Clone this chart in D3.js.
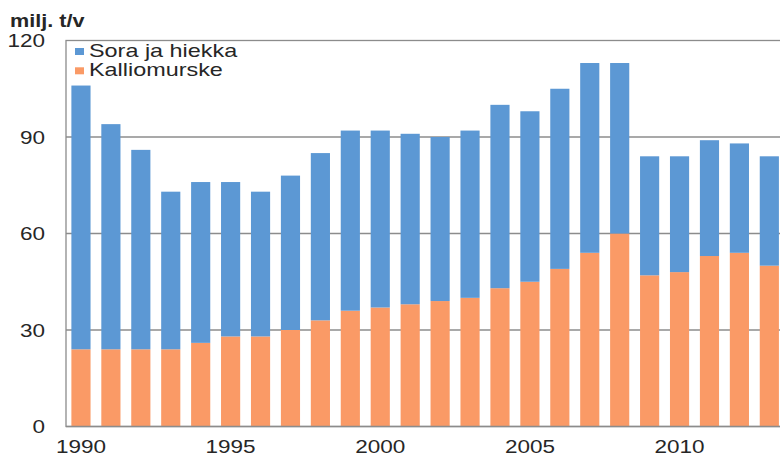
<!DOCTYPE html>
<html><head><meta charset="utf-8">
<script src="https://cdn.jsdelivr.net/npm/d3@7"></script>
<style>html,body{margin:0;padding:0;background:#fff;overflow:hidden}</style>
</head><body>
<svg id="c" width="780" height="455"></svg>
<script>
const years = [1990,1991,1992,1993,1994,1995,1996,1997,1998,1999,2000,2001,2002,2003,2004,2005,2006,2007,2008,2009,2010,2011,2012,2013];
const kalliomurske = [24,24,24,24,26,28,28,30,33,36,37,38,39,40,43,45,49,54,60,47,48,53,54,50];
const soraJaHiekka = [82,70,62,49,50,48,45,48,52,56,55,53,51,52,57,53,56,59,53,37,36,36,34,34];
const yTicks = [0,30,60,90,120];
const xTickLabels = [1990,1995,2000,2005,2010];
const seriesNames = ["Sora ja hiekka","Kalliomurske"];
const unitLabel = "milj. t/v";

(function(){
const colors = {sora:"#5c98d4", kallio:"#fa9a66"};
const svg = d3.select("#c");
const pLeft = 66, pRight = 784.3, pTop = 40.5, pBottom = 426.5;
const SX = 1.25;
const font = "Liberation Sans, Arial, sans-serif";

const rows = years.map((yr,i)=>({year:yr, kallio:kalliomurske[i], sora:soraJaHiekka[i]}));
const stack = d3.stack().keys(["kallio","sora"])(rows);

const x = d3.scaleBand().domain(years).range([pLeft,pRight]).paddingInner(0.36).paddingOuter(0.18);
const y = d3.scaleLinear().domain([0,120]).range([pBottom,pTop]);

// gridlines
svg.append("g").selectAll("line").data(yTicks.filter(d=>d>0 && d<120)).join("line")
  .attr("x1",pLeft).attr("x2",pRight).attr("y1",d=>y(d)).attr("y2",d=>y(d))
  .attr("stroke","#8c8c8c").attr("stroke-width",1.3);

// frame
svg.append("rect").attr("x",pLeft).attr("y",y(120)).attr("width",pRight-pLeft).attr("height",y(0)-y(120))
  .attr("fill","none").attr("stroke","#8c8c8c").attr("stroke-width",1.3);

// bars
svg.append("g").selectAll("g").data(stack).join("g")
  .attr("fill",d=>colors[d.key])
  .selectAll("rect").data(d=>d).join("rect")
  .attr("x",d=>x(d.data.year)).attr("width",x.bandwidth())
  .attr("y",d=>y(d[1])).attr("height",d=>y(d[0])-y(d[1]));

// axis line bottom
svg.append("line").attr("x1",pLeft).attr("x2",pRight).attr("y1",y(0)).attr("y2",y(0))
  .attr("stroke","#8c8c8c").attr("stroke-width",1.5);

function stext(tx,ty,str,opts={}){
  const g = svg.append("g").attr("transform",`translate(${tx},${ty}) scale(${opts.sx||SX},1)`);
  g.append("text").text(str).attr("font-family",font).attr("font-size",opts.size||18)
   .attr("font-weight",opts.weight||"normal").attr("fill",opts.fill||"#262626")
   .attr("text-anchor",opts.anchor||"start");
  return g;
}

yTicks.forEach(t=>stext(45, y(t)+6.5, String(t), {anchor:"end"}));
xTickLabels.forEach(t=>stext(x(t)+x.bandwidth()/2, 453, String(t), {anchor:"middle"}));
stext(10, 27, unitLabel, {weight:"bold", sx:1.2});

const legendKeys = ["sora","kallio"];
legendKeys.forEach((k,i)=>{
  const ly = 48 + i*19.3;
  svg.append("rect").attr("x",75).attr("y",ly).attr("width",9).attr("height",7).attr("fill",colors[k]);
  stext(89, ly+8.5, seriesNames[i], {sx:1.3});
});
})();
</script>
</body></html>
